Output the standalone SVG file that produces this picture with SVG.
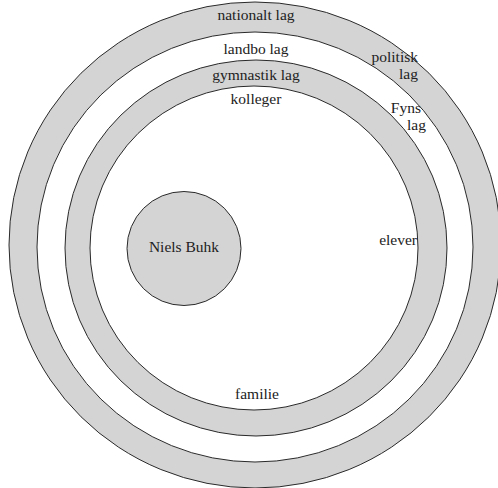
<svg xmlns="http://www.w3.org/2000/svg" width="498" height="488" viewBox="0 0 498 488">
<style>
.ring{fill:#d4d4d4;stroke:#2a2a2a;stroke-width:1}
.gap{fill:#ffffff;stroke:#2a2a2a;stroke-width:1}
.c{text-anchor:middle}
.r{text-anchor:end}
</style>
<rect width="498" height="488" fill="#ffffff"/>
<g id="outer-ring">
<ellipse class="ring" cx="255" cy="245" rx="246" ry="243"/>
<ellipse class="gap" cx="255" cy="247" rx="218" ry="215"/>
</g>
<g id="inner-ring">
<ellipse class="ring" cx="256" cy="248" rx="191" ry="188"/>
<ellipse class="gap" cx="254" cy="248" rx="164" ry="162"/>
</g>
<g id="niels-buhk" font-family="Liberation Serif, DejaVu Serif, serif" font-size="15.5" fill="#222">
<circle class="ring" cx="184" cy="248.5" r="57"/>
<text class="c" x="184" y="252">Niels Buhk</text>
</g>
<g id="labels" font-family="Liberation Serif, DejaVu Serif, serif" font-size="15.5" fill="#222">
<text class="c" x="256" y="20">nationalt lag</text>
<text class="c" x="256" y="54">landbo lag</text>
<text class="c" x="256" y="80">gymnastik lag</text>
<text class="c" x="256" y="104">kolleger</text>
<text class="r" x="418" y="62">politisk</text>
<text class="r" x="418" y="79">lag</text>
<text class="r" x="421" y="113">Fyns</text>
<text class="r" x="426" y="130">lag</text>
<text class="r" x="417" y="245">elever</text>
<text class="c" x="257" y="399">familie</text>
</g>
<g id="connectors"/>
</svg>
